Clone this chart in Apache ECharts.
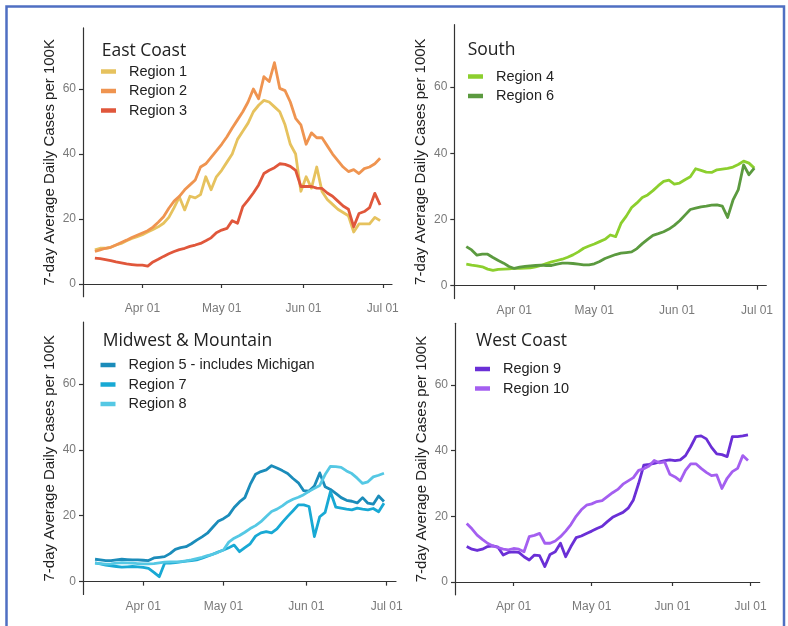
<!DOCTYPE html>
<html>
<head>
<meta charset="utf-8">
<script src="https://cdn.jsdelivr.net/npm/echarts@6/dist/echarts.min.js"></script>
<style>
html,body{margin:0;padding:0;background:#fff;}
#chart{width:788px;height:626px;}
</style>
</head>
<body>
<div id="chart"></div>
<script>
// x values: days since Mar 01 (Mar 14 = 13 ... Jun 30 = 121), every second day
const days = [13,15,17,19,21,23,25,27,29,31,33,35,37,39,41,43,45,47,49,51,53,55,57,59,61,63,65,67,69,71,73,75,77,79,81,83,85,87,89,91,93,95,97,99,101,103,105,107,109,111,113,115,117,119,121];

const region1 = [10.5,11,11,11.3,12,12.5,13.3,14,14.6,15.2,16,16.8,17.6,18.7,20.5,23.5,26.8,22.8,27,26.5,27.5,33,29,33,35,37.5,40,44.5,47,49.5,53,55,56.5,56,54.5,53,49,43,40,28.5,33,29.5,36,28.5,26,24.5,23,22,21,16,18.5,18.5,18.5,20.5,19.5];
const region2 = [10,10.5,11,11.3,12,12.8,13.5,14.3,15,15.7,16.4,17.5,19,20.7,23.3,25.5,27,29,30.5,32,36,37,39,41,43,45.3,48,50.5,53,56,60,57,63.8,62.3,68.1,60.2,59.5,56,51,49,43,46.5,45,45,42.5,40,38,36,34.6,35.2,34,35.5,36,37,38.7];
const region3 = [8,7.8,7.5,7.2,6.8,6.5,6.2,6,5.8,5.8,5.5,6.8,7.6,8.5,9.3,10,10.6,11,11.6,12,12.5,13.3,14.2,15.8,16.6,17.1,19.5,18.7,23.8,25.8,28,30.5,34,35,35.8,37,36.8,36.2,35,30,30,30,29.5,29.4,28,27,25.5,24,23,17.6,21.7,22.3,23.5,27.9,24.3];
const region4 = [6.5,6.2,6,5.7,5,4.6,4.9,5,5.1,5.2,5.2,5.3,5.4,5.7,6.1,6.7,7.2,7.6,8,8.6,9.3,10.2,11.3,12,12.6,13.3,14,15.3,14.8,18.8,21,23.6,25,26.6,27.4,28.7,30.2,31.5,31.9,30.7,31,32,32.9,35.3,34.8,34.3,34.2,35,35.2,35.4,35.8,36.6,37.6,37,35.5];
const region6 = [11.8,10.8,9.2,9.5,9.5,8.5,7.6,6.8,5.8,5.2,5.6,5.8,6,6.1,6.2,6.1,6.1,6.5,6.8,6.8,6.7,6.5,6.3,6.3,6.6,7.3,8.2,8.8,9.4,9.8,10,10.2,11.2,12.7,14,15.2,15.7,16.3,17.1,18.2,19.6,21.3,23,23.4,23.8,24,24.3,24.4,24,20.6,25.8,29,36.5,33.5,35.5];
const region5 = [6.8,6.6,6.4,6.4,6.6,6.8,6.7,6.6,6.6,6.5,6.4,7.2,7.4,7.6,8.5,9.8,10.3,10.6,11.5,12.6,13.6,14.7,16.5,18.3,19.1,20.2,22.5,24.2,25.5,29.5,32.6,33.4,33.9,35.2,34.5,33.7,32.8,31.3,30,27.6,27.5,29,33,28.8,28,26.8,25.5,24.7,24.4,23.9,25.5,23.8,23.5,26,24.3];
const region7 = [5.7,5.4,5,4.8,4.6,4.4,4.5,4.6,4.5,4.3,4,2.8,1.5,5.6,5.6,5.8,6,6.2,6.4,6.6,7.1,7.7,8.3,9,9.6,10.3,11.1,9.1,10.3,11.5,13.8,14.8,15.2,14.8,16,18,19.8,21.5,23.3,23.3,22.8,13.7,19.7,21,27.3,22.6,22.3,22,21.8,22.3,22,21.8,22.2,21.2,23.8];
const region8 = [5.6,5.5,5.3,5.4,5.6,5.8,5.7,5.6,5.5,5.4,5.4,5.5,5.7,5.9,6,6,6.1,6.3,6.6,7,7.4,7.9,8.3,8.9,9.6,12,13.2,14,15,16.1,17,18.2,19.8,21.3,22,23,24.2,25,25.6,26.4,27.4,28.3,29.2,32.5,35,34.9,34.7,33.6,32.8,31.4,29.8,30.3,31.8,32.3,32.9];
const region9 = [10.8,10,9.6,10,10.8,11,10.6,8.2,9,9.2,9,7.7,6.7,8.2,8,4.7,8.4,9.2,11.8,7.7,10.8,13.5,14,14.8,15.5,16.3,17,18.4,19.7,20.5,21.2,22.5,25,30,35.6,35.8,36.1,36.6,37,37.2,37,37.2,38.5,41.2,44.3,44.5,43.6,41,39,38.8,38.2,44.3,44.3,44.5,44.8];
const region10 = [17.8,16.2,14.3,13,11.8,11,10.5,10,9.8,10.2,10,9.2,13.8,14.2,14.8,11.8,11.8,12.5,13.8,15.5,17.5,20,22,23.4,23.8,24.5,24.8,26,27.2,28.2,29.8,30.8,31.8,34,34.5,35.3,37,36.3,36.6,32.8,32,30.8,34,36,36,34.6,33.4,32.4,32.6,28.5,31.6,33.6,34.6,38.5,37];

const xTickDays = [31, 61, 92, 122];
const xTickLabels = ['Apr 01', 'May 01', 'Jun 01', 'Jul 01'];
const yTicks = [0, 20, 40, 60];

const panelTitles = ['East Coast', 'South', 'Midwest & Mountain', 'West Coast'];
const panelSeries = [
  [['Region 1', region1, '#e6c25e'], ['Region 2', region2, '#ef9450'], ['Region 3', region3, '#e0573b']],
  [['Region 4', region4, '#8ccf2e'], ['Region 6', region6, '#5b9a3f']],
  [['Region 5 - includes Michigan', region5, '#1b8cba'], ['Region 7', region7, '#18a9d4'], ['Region 8', region8, '#55c8e4']],
  [['Region 9', region9, '#6a2fd6'], ['Region 10', region10, '#a45ff0']]
];
const yName = '7-day Average Daily Cases per 100K';

// layout (pixels)
const grids = [
  {left: 83, top: 27.9, width: 309, height: 268.8},
  {left: 454.3, top: 24.7, width: 312, height: 273.9},
  {left: 83, top: 322, width: 313, height: 272.5},
  {left: 455, top: 323.3, width: 304.7, height: 271.5}
];
const titlePos = [[101.7, 40.5], [467.7, 40], [102.7, 331], [476, 331]];
const legendPos = [[101, 63], [468, 68], [100.5, 356.5], [475, 360.5]];

const axisColor = '#333';
const xAxes = grids.map((g, i) => ({
  type: 'value', gridIndex: i, min: 8.5, max: 125.5,
  splitLine: {show: false},
  axisLine: {show: true, lineStyle: {color: axisColor, width: 1.2}},
  axisTick: {show: true, length: 4, lineStyle: {color: axisColor, width: 1.2}, customValues: xTickDays},
  axisLabel: {show: true, customValues: xTickDays, margin: 6, fontSize: 12, color: '#7a7a7a',
    fontFamily: 'Liberation Sans',
    formatter: v => xTickLabels[xTickDays.indexOf(v)] || ''}
}));
const yAxes = grids.map((g, i) => ({
  type: 'value', gridIndex: i, min: -3.9, max: 78.8,
  splitLine: {show: false},
  axisLine: {show: true, lineStyle: {color: axisColor, width: 1.2}},
  axisTick: {show: true, length: 4, lineStyle: {color: axisColor, width: 1.2}, customValues: yTicks},
  axisLabel: {show: true, customValues: yTicks, margin: 7, fontSize: 12, color: '#7a7a7a',
    fontFamily: 'Liberation Sans'},
  name: yName, nameLocation: 'middle', nameGap: 26, nameRotate: 90,
  nameTextStyle: {fontSize: 15, color: '#222', fontFamily: 'Liberation Sans'}
}));

const series = [];
const legends = [];
panelSeries.forEach((list, p) => {
  list.forEach(([name, vals, color]) => {
    series.push({
      type: 'line', name: name, xAxisIndex: p, yAxisIndex: p,
      data: days.map((d, k) => [d, vals[k]]),
      showSymbol: false, symbol: 'none',
      lineStyle: {color: color, width: 2.8, join: 'round'},
      itemStyle: {color: color},
      emphasis: {disabled: true}
    });
  });
  legends.push({
    data: list.map(s => s[0]),
    left: legendPos[p][0], top: legendPos[p][1],
    orient: 'vertical', icon: 'rect', itemWidth: 15, itemHeight: 4.5, itemGap: 2.5,
    padding: 0,
    textStyle: {fontSize: 14.5, color: '#222', fontFamily: 'Liberation Sans', lineHeight: 17, padding: [0, 0, 0, 8]},
    selectedMode: false
  });
});

const titles = panelTitles.map((t, p) => ({
  text: t, left: titlePos[p][0], top: titlePos[p][1], padding: 0,
  textStyle: {fontSize: 17.5, fontWeight: 'normal', color: '#222', fontFamily: 'Open Sans', lineHeight: 21}
}));

const chart = echarts.init(document.getElementById('chart'), null, {renderer: 'canvas'});
chart.setOption({
  animation: false,
  backgroundColor: '#fff',
  title: titles,
  legend: legends,
  grid: grids,
  xAxis: xAxes,
  yAxis: yAxes,
  series: series,
  graphic: [{
    type: 'rect', silent: true, z: 100,
    shape: {x: 6.5, y: 6.5, width: 777.5, height: 700},
    style: {fill: 'none', stroke: '#4f6fc2', lineWidth: 2.5}
  }]
});
</script>
</body>
</html>
